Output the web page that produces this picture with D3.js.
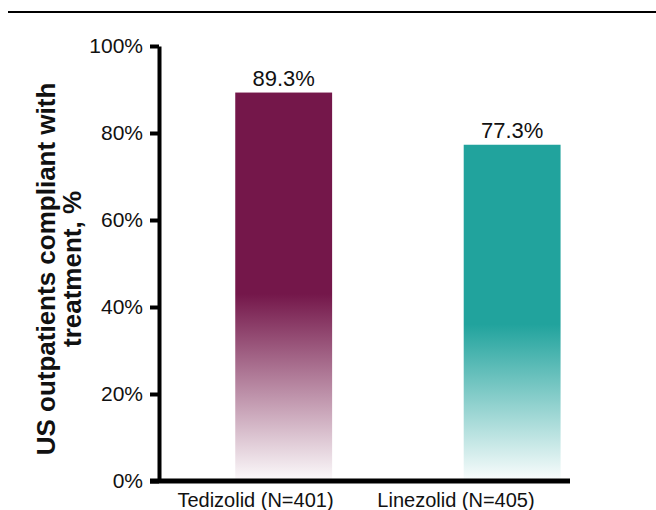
<!DOCTYPE html>
<html>
<head>
<meta charset="utf-8">
<script src="https://cdn.jsdelivr.net/npm/d3@7"></script>
<style>
  html, body { margin: 0; padding: 0; background: #fff; }
  svg { display: block; font-family: "Liberation Sans", Arial, sans-serif; }
</style>
</head>
<body>
<svg id="chart" width="656" height="510"></svg>
<script>
// Treatment arms and compliance rates (%)
const categories = ["Tedizolid (N=401)", "Linezolid (N=405)"];
const values = [89.3, 77.3];
const valueLabels = ["89.3%", "77.3%"];
const tickValues = [0, 20, 40, 60, 80, 100];
const tickLabels = ["0%", "20%", "40%", "60%", "80%", "100%"];
const barColors = ["#74174A", "#21A39D"];
// level (in %) where each bar starts fading toward white
const fadeFrom = [43, 36];

const svg = d3.select("#chart");
const plotLeft = 159, plotRight = 570, plotTop = 46, plotBottom = 481;

const y = d3.scaleLinear().domain([0, 100]).range([plotBottom, plotTop]);
const x = d3.scaleBand().domain(categories).range([plotLeft, plotRight])
  .paddingInner(0.576).paddingOuter(0.1875).align(0.89);
const xLabel = d3.scalePoint().domain(categories).range([255.5, 456]);

// top rule
svg.append("line").attr("x1", 8).attr("x2", 656).attr("y1", 12).attr("y2", 12)
  .attr("stroke", "#000").attr("stroke-width", 2.2);

// gradients
const defs = svg.append("defs");
categories.forEach((c, i) => {
  const g = defs.append("linearGradient").attr("id", "grad" + i)
    .attr("gradientUnits", "userSpaceOnUse")
    .attr("x1", 0).attr("x2", 0).attr("y1", y(values[i])).attr("y2", y(0));
  const span = y(0) - y(values[i]);
  const fadeOff = (y(fadeFrom[i]) - y(values[i])) / span;
  g.append("stop").attr("offset", 0).attr("stop-color", barColors[i]);
  g.append("stop").attr("offset", fadeOff).attr("stop-color", barColors[i]);
  g.append("stop").attr("offset", 1).attr("stop-color", barColors[i]).attr("stop-opacity", 0.02);
});

// bars
svg.append("g").selectAll("rect").data(categories).join("rect")
  .attr("x", d => x(d))
  .attr("width", x.bandwidth())
  .attr("y", (d, i) => y(values[i]))
  .attr("height", (d, i) => y(0) - y(values[i]))
  .attr("fill", (d, i) => `url(#grad${i})`);

// value labels
svg.append("g").selectAll("text").data(categories).join("text")
  .attr("x", d => x(d) + x.bandwidth() / 2)
  .attr("y", (d, i) => y(values[i]) - 7)
  .attr("text-anchor", "middle")
  .attr("font-size", 22)
  .attr("fill", "#111")
  .text((d, i) => valueLabels[i]);

// y axis
const yAxis = d3.axisLeft(y).tickValues(tickValues).tickFormat((d, i) => tickLabels[i])
  .tickSize(9).tickSizeOuter(0).tickPadding(7);
const ga = svg.append("g").attr("transform", `translate(${plotLeft},0)`).call(yAxis);
ga.select(".domain").attr("stroke", "#000").attr("stroke-width", 4);
ga.selectAll(".tick line").attr("stroke", "#000").attr("stroke-width", 4);
ga.selectAll(".tick text").attr("font-size", 21).attr("fill", "#111")
  .attr("font-family", "Liberation Sans, Arial, sans-serif");

// baseline
svg.append("line").attr("x1", plotLeft - 9).attr("x2", plotRight).attr("y1", y(0)).attr("y2", y(0))
  .attr("stroke", "#000").attr("stroke-width", 5);

// category labels
svg.append("g").selectAll("text").data(categories).join("text")
  .attr("x", d => xLabel(d))
  .attr("y", 507)
  .attr("text-anchor", "middle")
  .attr("font-size", 20)
  .attr("fill", "#111")
  .text(d => d);

// y axis title
const title = svg.append("text")
  .attr("transform", "translate(46,269) rotate(-90)")
  .attr("text-anchor", "middle")
  .attr("font-size", 26)
  .attr("font-weight", "bold")
  .attr("fill", "#111");
title.append("tspan").attr("x", 0).attr("dy", "0.35em").text("US outpatients compliant with");
title.append("tspan").attr("x", 0).attr("dy", 26).text("treatment, %");
</script>
</body>
</html>
